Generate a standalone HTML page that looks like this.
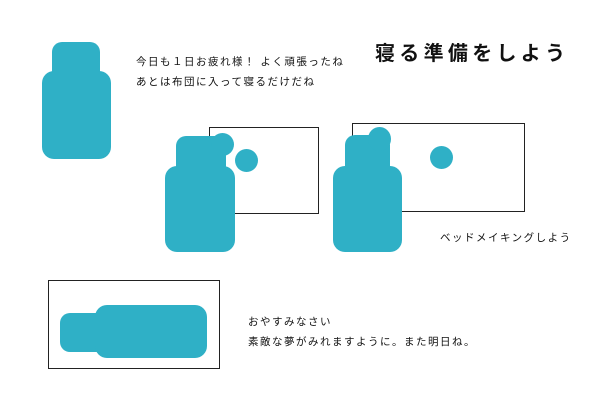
<!DOCTYPE html>
<html><head><meta charset="utf-8"><style>
body{margin:0;width:600px;height:400px;background:#fff;position:relative;overflow:hidden;font-family:"Liberation Sans","Noto Sans CJK JP",sans-serif;}
.b{position:absolute;background:#2fb0c6;}
.r{position:absolute;border:1px solid #222;background:#fff;}
.t{position:absolute;font-size:10.5px;color:#111;white-space:nowrap;letter-spacing:1.5px;}
</style></head><body>
<div class="b" style="left:52px;top:42px;width:48px;height:40px;border-radius:10px"></div>
<div class="b" style="left:42px;top:71px;width:69px;height:88px;border-radius:12px"></div>
<div class="t" style="left:136px;top:54px">今日も１日お疲れ様！ よく頑張ったね</div>
<div class="t" style="left:136px;top:74px">あとは布団に入って寝るだけだね</div>
<div style="position:absolute;left:375px;top:37px;font-size:20px;font-weight:bold;letter-spacing:4.3px;color:#111">寝る準備をしよう</div>

<div class="r" style="left:209px;top:127px;width:108px;height:85px"></div>
<div class="b" style="left:176px;top:136px;width:50px;height:45px;border-radius:10px"></div>
<div class="b" style="left:211px;top:133px;width:23px;height:23px;border-radius:50%"></div>
<div class="b" style="left:235px;top:149px;width:23px;height:23px;border-radius:50%"></div>
<div class="b" style="left:165px;top:166px;width:70px;height:86px;border-radius:12px"></div>

<div class="r" style="left:352px;top:123px;width:171px;height:87px"></div>
<div class="b" style="left:345px;top:135px;width:45px;height:45px;border-radius:10px"></div>
<div class="b" style="left:368px;top:127px;width:23px;height:24px;border-radius:50%"></div>
<div class="b" style="left:430px;top:146px;width:23px;height:23px;border-radius:50%"></div>
<div class="b" style="left:333px;top:166px;width:69px;height:86px;border-radius:12px"></div>
<div class="t" style="left:440px;top:230px">ベッドメイキングしよう</div>

<div class="r" style="left:48px;top:280px;width:170px;height:87px"></div>
<div class="b" style="left:60px;top:313px;width:46px;height:39px;border-radius:10px"></div>
<div class="b" style="left:95px;top:305px;width:112px;height:53px;border-radius:12px"></div>
<div class="t" style="left:248px;top:314px">おやすみなさい</div>
<div class="t" style="left:248px;top:334px">素敵な夢がみれますように。また明日ね。</div>
</body></html>
